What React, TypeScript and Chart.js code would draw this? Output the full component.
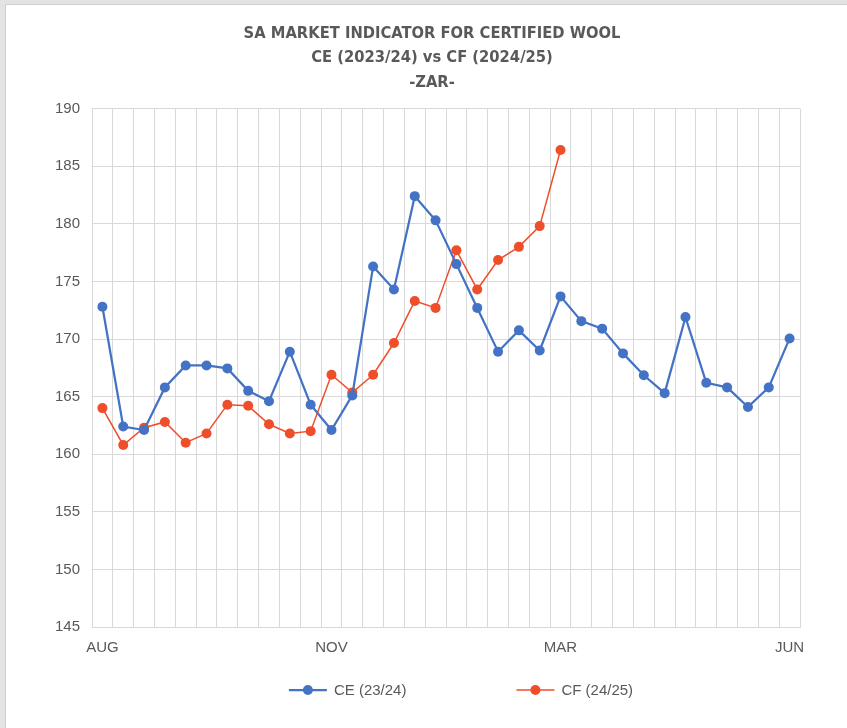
import React, { useEffect, useRef } from "react";
import { Chart, registerables } from "chart.js";

Chart.register(...registerables);

const titleLines = [
  "SA MARKET INDICATOR FOR CERTIFIED WOOL",
  "CE (2023/24) vs CF (2024/25)",
  "-ZAR-",
];

// 34 sale weeks; only month markers labelled
const categories = [
  "AUG", "", "", "", "", "", "", "", "", "", "",
  "NOV", "", "", "", "", "", "", "", "", "", "",
  "MAR", "", "", "", "", "", "", "", "", "", "",
  "JUN",
];

const ceLabel = "CE (23/24)";
const ceValues = [
  172.8, 162.4, 162.1, 165.8, 167.7, 167.7, 167.45, 165.5, 164.6, 168.9, 164.3,
  162.1, 165.1, 176.3, 174.3, 182.4, 180.3, 176.5, 172.7, 168.9, 170.75, 169.0,
  173.7, 171.55, 170.9, 168.75, 166.85, 165.3, 171.9, 166.2, 165.8, 164.1, 165.8,
  170.05,
];

const cfLabel = "CF (24/25)";
const cfValues = [
  164.0, 160.8, 162.3, 162.8, 161.0, 161.8, 164.3, 164.2, 162.6, 161.8, 162.0,
  166.9, 165.35, 166.9, 169.65, 173.3, 172.7, 177.7, 174.3, 176.85, 178.0, 179.8,
  186.4,
];

const yMin = 145;
const yMax = 190;
const yStep = 5;

const BLUE = "#4472C4";
const RED = "#EF4E2A";
const TEXT = "#595959";
const GRID = "#D9D9D9";
const FONT = "'Liberation Sans', Arial, sans-serif";

const legendPlugin = {
  id: "excelLegend",
  afterDraw(chart: any) {
    const ctx = chart.ctx;
    const ds = chart.data.datasets;
    ctx.save();
    ctx.font = `15px ${FONT}`;
    ctx.textBaseline = "middle";
    const lineLen = 38;
    const gapText = 7;
    const gapItem = 110;
    const widths = ds.map((d: any) => lineLen + gapText + ctx.measureText(d.label).width);
    const total = widths.reduce((a: number, b: number) => a + b, 0) + gapItem * (ds.length - 1);
    const center = (chart.chartArea.left + chart.chartArea.right) / 2 + 15;
    let x = center - total / 2;
    const y = 685;
    ds.forEach((d: any, i: number) => {
      ctx.strokeStyle = d.borderColor;
      ctx.lineWidth = d.borderWidth;
      ctx.beginPath();
      ctx.moveTo(x, y);
      ctx.lineTo(x + lineLen, y);
      ctx.stroke();
      ctx.fillStyle = d.pointBackgroundColor;
      ctx.beginPath();
      ctx.arc(x + lineLen / 2, y, 5, 0, Math.PI * 2);
      ctx.fill();
      ctx.fillStyle = TEXT;
      ctx.textAlign = "left";
      ctx.fillText(d.label, x + lineLen + gapText, y + 1);
      x += widths[i] + gapItem;
    });
    ctx.restore();
  },
};

function ChartView() {
  const ref = useRef<HTMLCanvasElement | null>(null);
  useEffect(() => {
    if (!ref.current) return;
    const chart = new Chart(ref.current, {
      type: "line",
      data: {
        labels: categories,
        datasets: [
          {
            label: ceLabel,
            data: ceValues,
            borderColor: BLUE,
            backgroundColor: BLUE,
            pointBackgroundColor: BLUE,
            pointBorderColor: BLUE,
            borderWidth: 2.25,
            pointRadius: 5,
            pointBorderWidth: 0,
            tension: 0,
          },
          {
            label: cfLabel,
            data: cfValues,
            borderColor: RED,
            backgroundColor: RED,
            pointBackgroundColor: RED,
            pointBorderColor: RED,
            borderWidth: 1.5,
            pointRadius: 5,
            pointBorderWidth: 0,
            tension: 0,
          },
        ],
      },
      options: {
        responsive: false,
        animation: false,
        devicePixelRatio: 1,
        layout: { padding: { left: 0, right: 0, top: 0, bottom: 0 } },
        plugins: {
          legend: { display: false },
          tooltip: { enabled: false },
          title: {
            display: true,
            text: titleLines,
            color: TEXT,
            font: { family: "'Liberation Sans Narrow', 'DejaVu Sans Condensed', sans-serif", size: 16.4, weight: "bold", lineHeight: 1.5 },
            padding: { top: 16, bottom: 13.8 },
          },
        },
        scales: {
          x: {
            type: "category",
            offset: true,
            grid: { color: GRID, lineWidth: 1, offset: true, drawTicks: false },
            border: { color: GRID, width: 1 },
            ticks: {
              color: TEXT,
              font: { family: FONT, size: 15 },
              autoSkip: false,
              maxRotation: 0,
              minRotation: 0,
              padding: 12,
            },
            afterFit: (s: any) => {
              s.height = 101;
            },
          },
          y: {
            min: yMin,
            max: yMax,
            grid: { color: GRID, lineWidth: 1, drawTicks: false },
            border: { color: GRID, width: 1 },
            ticks: {
              stepSize: yStep,
              color: TEXT,
              font: { family: FONT, size: 15 },
              padding: 12,
            },
            afterFit: (s: any) => {
              s.width = 86;
            },
          },
          yRight: {
            type: "linear",
            position: "right",
            display: true,
            min: yMin,
            max: yMax,
            grid: { display: false, drawTicks: false },
            border: { display: false },
            ticks: { display: false },
            afterFit: (s: any) => {
              s.width = 58;
            },
          },
        },
      },
      plugins: [legendPlugin],
    } as any);
    return () => chart.destroy();
  }, []);
  return <canvas ref={ref} width={852} height={723} style={{ display: "block", width: 852, height: 723 }} />;
}

export default function App() {
  return (
    <div
      style={{
        position: "fixed",
        left: 0,
        top: 0,
        width: 847,
        height: 728,
        overflow: "hidden",
        background: "#E3E3E3",
      }}
    >
      <div
        style={{
          position: "absolute",
          left: 5,
          top: 4,
          width: 860,
          height: 740,
          background: "#FFFFFF",
          borderLeft: "1px solid #CFCFCF",
          borderTop: "1px solid #CFCFCF",
        }}
      >
        <ChartView />
      </div>
    </div>
  );
}
